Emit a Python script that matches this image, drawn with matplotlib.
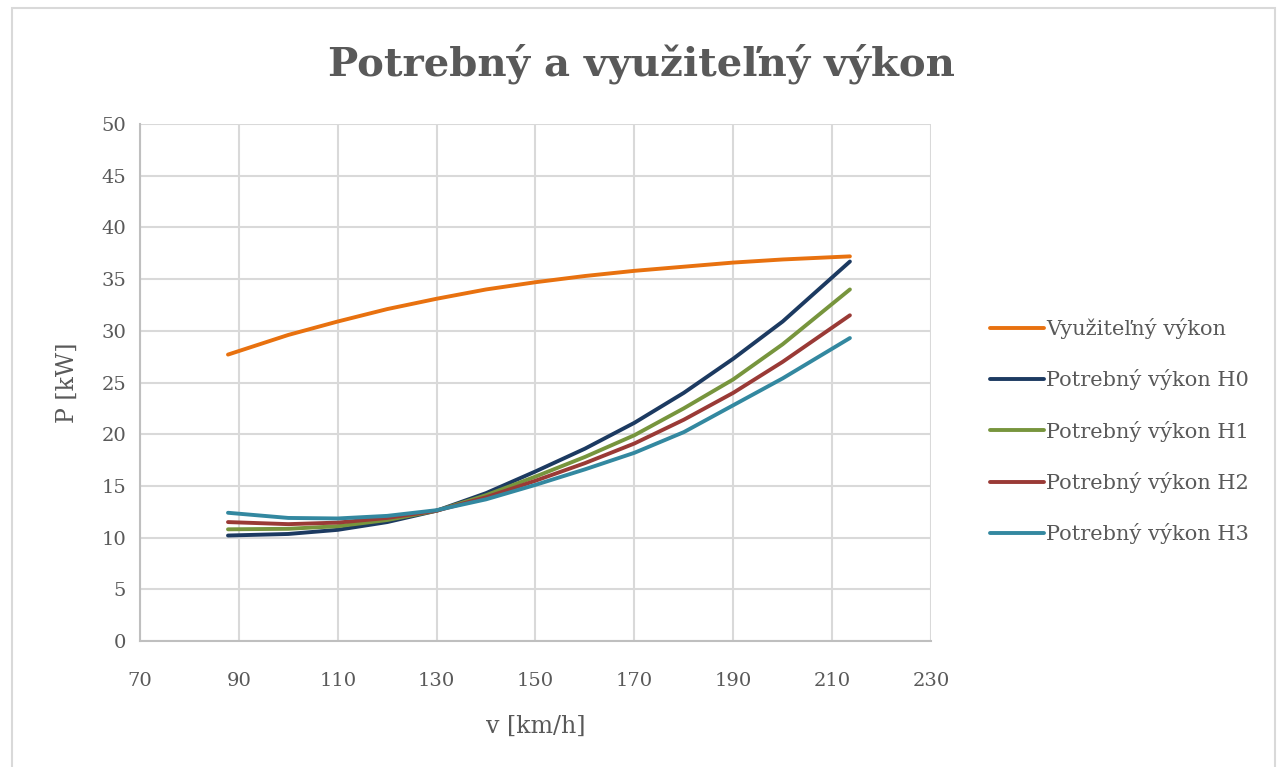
import matplotlib
matplotlib.use("Agg")
import matplotlib.pyplot as plt
from matplotlib.patches import Rectangle

plt.rcParams['font.family'] = ['DejaVu Serif']

# rychlost [km/h]
v = [87.8, 100, 110, 120, 130, 140, 150, 160, 170, 180, 190, 200, 213.6]

# vykony [kW]
p_vyuz = [27.7, 29.6, 30.9, 32.1, 33.1, 34.0, 34.7, 35.3, 35.8, 36.2, 36.6, 36.9, 37.2]
p_h0 = [10.2, 10.35, 10.75, 11.5, 12.6, 14.3, 16.4, 18.6, 21.1, 24.0, 27.3, 30.9, 36.7]
p_h1 = [10.8, 10.85, 11.1, 11.7, 12.6, 14.1, 15.9, 17.8, 19.9, 22.5, 25.3, 28.7, 34.0]
p_h2 = [11.5, 11.3, 11.45, 11.9, 12.6, 13.9, 15.5, 17.2, 19.1, 21.4, 24.0, 27.0, 31.5]
p_h3 = [12.4, 11.9, 11.85, 12.1, 12.65, 13.7, 15.1, 16.6, 18.2, 20.2, 22.8, 25.4, 29.3]

series = [
    ('Využiteľný výkon', p_vyuz, '#E8710F'),
    ('Potrebný výkon H0', p_h0, '#1C3A61'),
    ('Potrebný výkon H1', p_h1, '#77953D'),
    ('Potrebný výkon H2', p_h2, '#9A3A36'),
    ('Potrebný výkon H3', p_h3, '#3388A0'),
]

txt = '#595959'
fig = plt.figure(figsize=(12.82, 7.67), dpi=100)
ax = fig.add_axes([0.1092, 0.1643, 0.617, 0.674])

for name, vals, col in series:
    ax.plot(v, vals, color=col, lw=2.8, label=name, solid_capstyle='round')

ax.set_xlim(70, 230)
ax.set_ylim(0, 50)
ax.set_xticks(range(70, 231, 20))
ax.set_yticks(range(0, 51, 5))
ax.grid(True, color='#d9d9d9', lw=1.5)
ax.set_axisbelow(True)
for s in ['top', 'right']:
    ax.spines[s].set_visible(False)
for s in ['left', 'bottom']:
    ax.spines[s].set_color('#bfbfbf')
    ax.spines[s].set_linewidth(1.5)
ax.tick_params(length=0, labelsize=14, colors=txt, pad=10)
ax.tick_params(axis='x', pad=22)

ax.set_xlabel('v [km/h]', fontsize=17, color=txt, labelpad=18)
ax.set_ylabel('P [kW]', fontsize=17, color=txt, labelpad=16)

fig.suptitle('Potrebný a využiteľný výkon', x=0.5, y=0.943, fontsize=29,
             fontweight='bold', color=txt)

ax.legend(loc='center left', bbox_to_anchor=(1.051, 0.406), frameon=False,
          fontsize=15, labelcolor=txt, handlelength=2.6, handletextpad=0.1,
          labelspacing=1.45)

fig.patches.append(Rectangle((0.0095, -0.01), 0.985, 1.0, transform=fig.transFigure,
                             fill=False, edgecolor='#d9d9d9', lw=1.5))

fig.savefig('out.png', dpi=100)
